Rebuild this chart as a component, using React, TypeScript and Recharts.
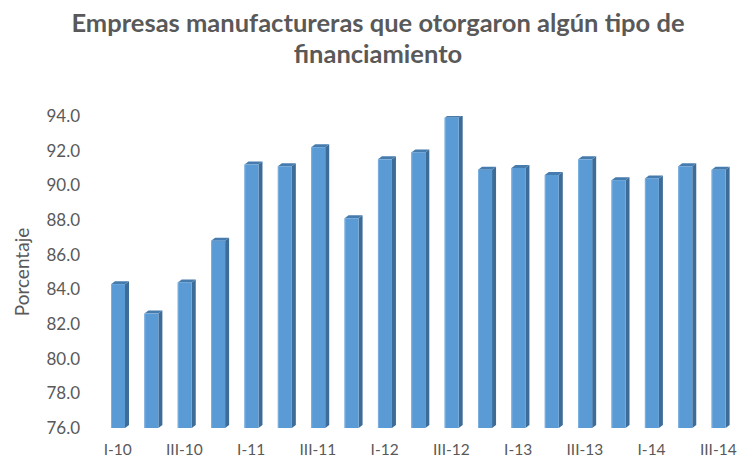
import { Bar, BarChart, XAxis, YAxis } from "recharts";

if (typeof document !== "undefined") document.body.style.margin = "0";

const quarters = [
  "I-10", "II-10", "III-10", "IV-10",
  "I-11", "II-11", "III-11", "IV-11",
  "I-12", "II-12", "III-12", "IV-12",
  "I-13", "II-13", "III-13", "IV-13",
  "I-14", "II-14", "III-14",
];

const porcentaje = [
  84.3, 82.6, 84.4, 86.8,
  91.2, 91.1, 92.2, 88.1,
  91.5, 91.9, 93.9, 90.9,
  91.0, 90.6, 91.5, 90.3,
  90.4, 91.1, 90.9,
];

const yTicks = [76, 78, 80, 82, 84, 86, 88, 90, 92, 94];

const data = quarters.map((q, i) => ({ q, value: porcentaje[i] }));

const FONT = "Lato, 'Open Sans', sans-serif";
const GREY = "#595959";

// 3D-ish bar: front face, darker right side, top cap
function Bar3D(props: any) {
  const { x, y, width, height } = props;
  if (height == null || height <= 0) return null;
  const d = 4;
  const dy = 3;
  const r = x + width;
  const b = y + height;
  return (
    <g>
      <polygon
        points={`${r},${y} ${r + d},${y - dy} ${r + d},${b - dy} ${r},${b}`}
        fill="#3D6C98"
      />
      <polygon
        points={`${x},${y} ${x + d},${y - dy} ${r + d},${y - dy} ${r},${y}`}
        fill="#467BAE"
      />
      <rect x={x} y={y} width={width} height={height} fill="#5B9BD5" />
      <rect x={x} y={y} width={1} height={height} fill="#7DB0E0" />
    </g>
  );
}

export default function App() {
  return (
    <div style={{ position: "relative", width: 738, height: 461, background: "#fff" }}>
      <div
        style={{
          position: "absolute",
          left: 0,
          top: 7,
          width: 756,
          textAlign: "center",
          fontFamily: FONT,
          fontWeight: 700,
          fontSize: 25.5,
          lineHeight: "31px",
          color: GREY,
          whiteSpace: "nowrap",
        }}
      >
        Empresas manufactureras que otorgaron algún tipo de
        <br />
        financiamiento
      </div>
      <BarChart
        width={738}
        height={461}
        data={data}
        margin={{ top: 116, right: 3, bottom: 0, left: 0 }}
        barCategoryGap={0}
      >
        <XAxis
          dataKey="q"
          interval={1}
          axisLine={false}
          tickLine={false}
          tickSize={0}
          height={33}
          tickMargin={16}
          tick={{ fill: GREY, fontSize: 15.5, fontFamily: FONT }}
        />
        <YAxis
          domain={[76, 94]}
          ticks={yTicks}
          allowDataOverflow
          width={101}
          axisLine={false}
          tickLine={false}
          tickSize={0}
          tickMargin={21}
          tickFormatter={(v: number) => v.toFixed(1)}
          tick={{ fill: GREY, fontSize: 17, fontFamily: FONT }}
          label={{
            value: "Porcentaje",
            angle: -90,
            position: "insideLeft",
            offset: 22,
            style: { textAnchor: "middle", fill: GREY, fontSize: 19, fontFamily: FONT },
          }}
        />
        <Bar
          dataKey="value"
          barSize={14}
          shape={<Bar3D />}
          isAnimationActive={false}
        />
      </BarChart>
    </div>
  );
}
